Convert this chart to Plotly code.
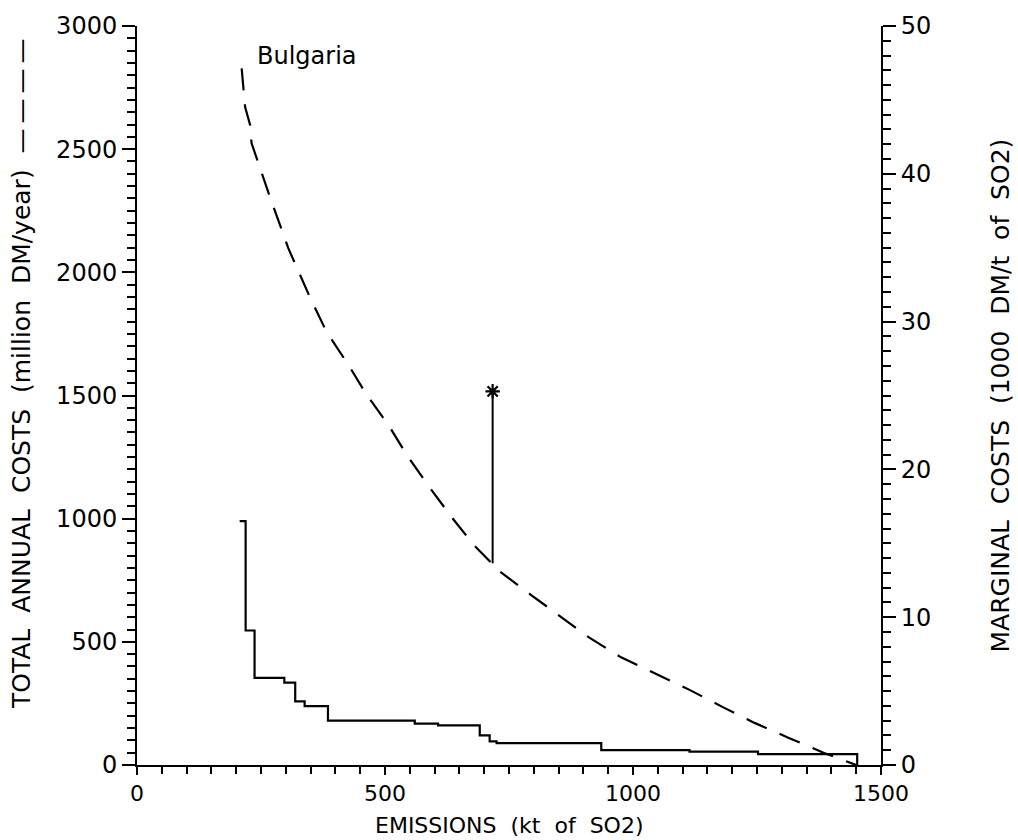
import plotly.graph_objects as go

# Total annual costs curve (dashed), left axis (million DM/year)
tac_emissions = [211, 214, 218, 228, 231, 267, 305, 349, 382, 425, 463, 507, 545, 587, 634, 679,
                 732, 794, 853, 912, 976, 1044, 1113, 1181, 1245, 1313, 1384, 1450]
tac_costs = [2828, 2745, 2671, 2598, 2524, 2312, 2098, 1897, 1759, 1628, 1503, 1380, 1255, 1135, 1007, 893,
             785, 691, 604, 517, 437, 373, 306, 235, 171, 111, 50, 0]

# Marginal costs step curve, right axis (1000 DM/t of SO2)
mc_emissions = [207, 219, 237, 297, 319, 338, 385, 560, 607, 691, 711, 725, 936, 1114, 1252, 1452]
mc_costs = [16.5, 9.1, 5.9, 5.57, 4.3, 3.98, 3.0, 2.8, 2.68, 2.0, 1.6, 1.48, 1.0, 0.9, 0.74, 0]

# Marked point (star) with vertical line down to the cost curve
star_emission = [717, 717]
star_costs = [819, 1517]

x_ticks = [0, 500, 1000, 1500]
y_ticks = [0, 500, 1000, 1500, 2000, 2500, 3000]
y2_ticks = [0, 10, 20, 30, 40, 50]

FONT = "DejaVu Sans"
fig = go.Figure()

fig.add_trace(go.Scatter(x=tac_emissions, y=tac_costs, mode="lines",
                         line=dict(color="black", width=2.2, dash="22px,14px"),
                         showlegend=False))
fig.add_trace(go.Scatter(x=mc_emissions, y=mc_costs, mode="lines", yaxis="y2",
                         line=dict(color="black", width=2.2, shape="hv"), showlegend=False))
fig.add_trace(go.Scatter(x=star_emission, y=star_costs, mode="lines",
                         line=dict(color="black", width=2), showlegend=False))
fig.add_trace(go.Scatter(x=star_emission[1:], y=star_costs[1:], mode="markers",
                         marker=dict(symbol="asterisk-open", size=12, color="black",
                                     line=dict(color="black", width=2.2)),
                         showlegend=False))

axis_common = dict(showgrid=False, zeroline=False, showline=True, linecolor="black", linewidth=2,
                   ticks="outside", tickwidth=2, tickcolor="black")

fig.update_layout(
    width=1018, height=840,
    margin=dict(l=137, r=137, t=19, b=75),
    paper_bgcolor="white", plot_bgcolor="white",
    font=dict(family=FONT, color="black"),
    xaxis=dict(range=[0, 1500], tickvals=x_ticks, ticktext=[str(v) for v in x_ticks], ticklen=8,
               tickfont=dict(family=FONT, size=22, color="black"),
               minor=dict(dtick=50, ticks="outside", ticklen=7, tickwidth=2, tickcolor="black"),
               **axis_common),
    yaxis=dict(range=[0, 3000], tickvals=y_ticks, ticktext=[str(v) for v in y_ticks], ticklen=13,
               tickfont=dict(family=FONT, size=24, color="black"),
               minor=dict(dtick=50, ticks="outside", ticklen=8, tickwidth=2, tickcolor="black"),
               **axis_common),
    yaxis2=dict(range=[0, 50], tickvals=y2_ticks, ticktext=[str(v) for v in y2_ticks], ticklen=13,
                tickfont=dict(family=FONT, size=24, color="black"),
                overlaying="y", side="right",
                minor=dict(dtick=1, ticks="outside", ticklen=8, tickwidth=2, tickcolor="black"),
                **axis_common),
    annotations=[
        dict(text="Bulgaria", x=238, y=2880, xref="x", yref="y", xanchor="left", yanchor="middle",
             showarrow=False, font=dict(family=FONT, size=24, color="black")),
        dict(text="TOTAL\u00a0\u00a0ANNUAL\u00a0\u00a0COSTS\u00a0\u00a0(million\u00a0\u00a0DM/year)\u00a0\u00a0\u2014\u2009\u2014\u2009\u2014\u2009\u2014",
             x=-0.155, y=0.53, xref="paper", yref="paper", textangle=-90,
             xanchor="center", yanchor="middle",
             showarrow=False, font=dict(family=FONT, size=25, color="black")),
        dict(text="MARGINAL\u00a0\u00a0COSTS\u00a0\u00a0(1000\u00a0\u00a0DM/t\u00a0\u00a0of\u00a0\u00a0SO2)",
             x=1.16, y=0.5, xref="paper", yref="paper", textangle=-90,
             xanchor="center", yanchor="middle",
             showarrow=False, font=dict(family=FONT, size=25, color="black")),
        dict(text="EMISSIONS\u00a0\u00a0(kt\u00a0\u00a0of\u00a0\u00a0SO2)",
             x=0.5, y=-0.082, xref="paper", yref="paper", xanchor="center", yanchor="middle",
             showarrow=False, font=dict(family=FONT, size=22, color="black")),
    ],
)

fig.write_html("out.html")
